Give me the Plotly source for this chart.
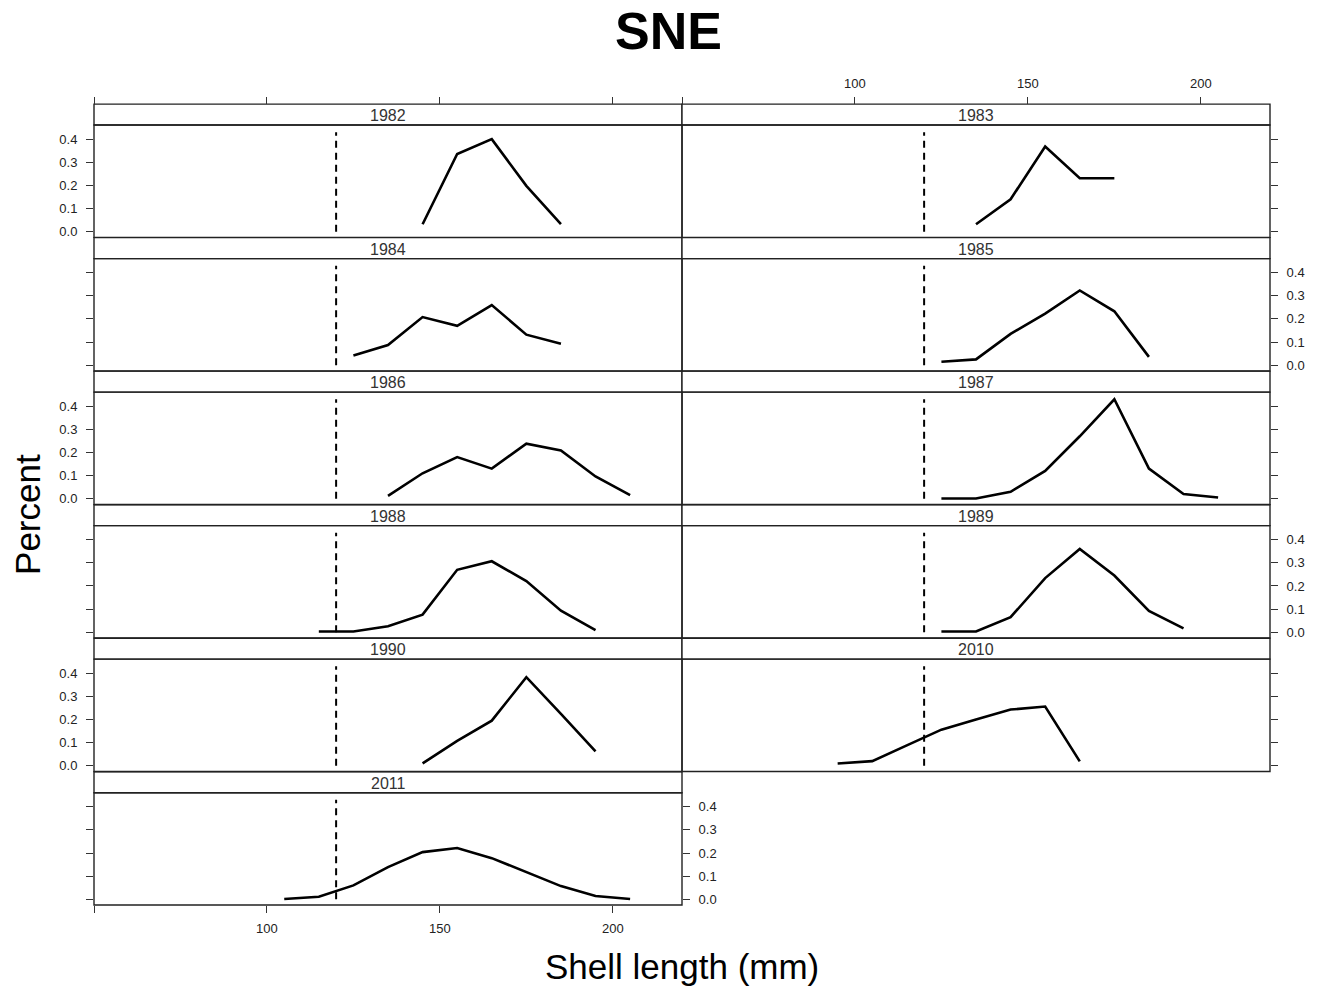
import plotly.graph_objects as go

# Shell-length frequency distributions by survey year (SNE region)
years = ["1982", "1983", "1984", "1985", "1986", "1987",
         "1988", "1989", "1990", "2010", "2011"]

len_1982 = [145, 155, 165, 175, 185]
pct_1982 = [0.032, 0.336, 0.400, 0.198, 0.033]

len_1983 = [135, 145, 155, 165, 175]
pct_1983 = [0.032, 0.140, 0.368, 0.231, 0.231]

len_1984 = [125, 135, 145, 155, 165, 175, 185]
pct_1984 = [0.042, 0.087, 0.208, 0.170, 0.260, 0.132, 0.093]

len_1985 = [125, 135, 145, 155, 165, 175, 185]
pct_1985 = [0.015, 0.025, 0.135, 0.223, 0.323, 0.233, 0.036]

len_1986 = [135, 145, 155, 165, 175, 185, 195, 205]
pct_1986 = [0.012, 0.110, 0.180, 0.130, 0.238, 0.209, 0.096, 0.015]

len_1987 = [125, 135, 145, 155, 165, 175, 185, 195, 205]
pct_1987 = [0.001, 0.001, 0.030, 0.120, 0.270, 0.430, 0.130, 0.020, 0.005]

len_1988 = [115, 125, 135, 145, 155, 165, 175, 185, 195]
pct_1988 = [0.003, 0.003, 0.026, 0.076, 0.270, 0.307, 0.221, 0.093, 0.009]

len_1989 = [125, 135, 145, 155, 165, 175, 185, 195]
pct_1989 = [0.003, 0.003, 0.065, 0.234, 0.360, 0.245, 0.092, 0.017]

len_1990 = [145, 155, 165, 175, 185, 195]
pct_1990 = [0.010, 0.108, 0.195, 0.383, 0.224, 0.062]

len_2010 = [95, 105, 115, 125, 135, 145, 155, 165]
pct_2010 = [0.010, 0.020, 0.088, 0.156, 0.200, 0.243, 0.256, 0.019]

len_2011 = [105, 115, 125, 135, 145, 155, 165, 175, 185, 195, 205]
pct_2011 = [0.001, 0.011, 0.060, 0.139, 0.204, 0.222, 0.178, 0.118, 0.057, 0.014, 0.001]

lengths = [len_1982, len_1983, len_1984, len_1985, len_1986, len_1987,
           len_1988, len_1989, len_1990, len_2010, len_2011]
percents = [pct_1982, pct_1983, pct_1984, pct_1985, pct_1986, pct_1987,
            pct_1988, pct_1989, pct_1990, pct_2010, pct_2011]

# minimum legal size reference line
cutoff_mm = 120
cutoff_top = 0.43

x_ticks = [50, 100, 150, 200]
x_tick_text = ["", "100", "150", "200"]
y_ticks = [0.0, 0.1, 0.2, 0.3, 0.4]
y_tick_text = ["0.0", "0.1", "0.2", "0.3", "0.4"]

W, H = 1327, 992
COLS = [(94, 682), (682, 1270)]
ROW_TOP0 = 104.3
ROW_PITCH = 133.8
STRIP_H = 21.0
PANEL_H = 133.6
X_RANGE = [50, 220]
Y_RANGE = [-0.025, 0.461]

FRAME = "#222222"
TICKCOL = "#333333"
TICKFONT = dict(family="Liberation Sans, Arial, sans-serif", size=13, color="#222222")
AXIS_COMMON = dict(showgrid=False, zeroline=False, showline=False,
                   ticklen=7, tickcolor=TICKCOL, tickwidth=1,
                   tickfont=TICKFONT)


def fx(p):
    return p / W


def fy(p):
    return 1 - p / H


fig = go.Figure()
layout = dict(shapes=[], annotations=[])

n_rows = 6
for i, yr in enumerate(years):
    row, col = divmod(i, 2)
    k = "" if i == 0 else str(i + 1)
    x0, x1 = COLS[col]
    s_top = ROW_TOP0 + ROW_PITCH * row
    s_bot = s_top + STRIP_H
    b_bot = s_top + PANEL_H
    last_row = row == n_rows - 1

    xa = dict(domain=[fx(x0), fx(x1)], range=X_RANGE, ticks="",
              showticklabels=False, anchor="y" + k, tickvals=x_ticks,
              ticktext=x_tick_text, ticklabelstandoff=4, **AXIS_COMMON)
    if row == 0:
        xa.update(anchor="free", position=fy(s_top), side="top",
                  ticks="outside", showticklabels=(col == 1))
    if last_row:
        xa.update(ticks="outside", showticklabels=True, side="bottom")

    # y labels alternate between the left and right sides row by row
    labelled = (row % 2 == 0) if col == 0 else (row % 2 == 1)
    ya = dict(domain=[fy(b_bot), fy(s_bot)], range=Y_RANGE, ticks="outside",
              tickvals=y_ticks, ticktext=y_tick_text, anchor="x" + k,
              side="left" if col == 0 else "right", ticklabelstandoff=6,
              showticklabels=labelled and not last_row, **AXIS_COMMON)

    layout["xaxis" + k] = xa
    layout["yaxis" + k] = ya

    # strip and panel frames
    layout["shapes"].append(dict(type="rect", xref="paper", yref="paper",
                                 x0=fx(x0), x1=fx(x1), y0=fy(s_bot), y1=fy(s_top),
                                 line=dict(color=FRAME, width=1.4),
                                 fillcolor="white", layer="below"))
    layout["shapes"].append(dict(type="rect", xref="paper", yref="paper",
                                 x0=fx(x0), x1=fx(x1), y0=fy(b_bot), y1=fy(s_bot),
                                 line=dict(color=FRAME, width=1.4),
                                 fillcolor="rgba(0,0,0,0)", layer="above"))
    layout["annotations"].append(dict(
        text=yr, xref="paper", yref="paper", x=fx((x0 + x1) / 2),
        y=fy((s_top + s_bot) / 2 + 1), showarrow=False, xanchor="center",
        yanchor="middle",
        font=dict(family="Liberation Sans, Arial, sans-serif", size=16,
                  color="#333333")))

    cut_y = "y" + k
    if last_row:
        # the lone bottom panel also carries a labelled axis on its right side
        layout["yaxis12"] = dict(domain=ya["domain"], range=Y_RANGE,
                                 overlaying="y" + k, anchor="x" + k,
                                 side="right", ticks="outside",
                                 tickvals=y_ticks, ticktext=y_tick_text,
                                 ticklabelstandoff=6, **AXIS_COMMON)
        cut_y = "y12"

    fig.add_trace(go.Scatter(x=[cutoff_mm, cutoff_mm], y=[0, cutoff_top],
                             xaxis="x" + k, yaxis=cut_y, mode="lines",
                             line=dict(color="black", width=2, dash="7px,5px"),
                             showlegend=False, hoverinfo="skip"))
    fig.add_trace(go.Scatter(x=lengths[i], y=percents[i],
                             xaxis="x" + k, yaxis="y" + k, mode="lines",
                             line=dict(color="black", width=2.6),
                             showlegend=False))

big = dict(family="Liberation Sans, Arial, sans-serif", color="black")
layout["annotations"] += [
    dict(text="<b>SNE</b>", xref="paper", yref="paper", x=fx(668), y=fy(31),
         showarrow=False, xanchor="center", yanchor="middle",
         font=dict(size=52, **big)),
    dict(text="Shell length (mm)", xref="paper", yref="paper", x=fx(682),
         y=fy(968), showarrow=False, xanchor="center", yanchor="middle",
         font=dict(size=35, **big)),
    dict(text="Percent", xref="paper", yref="paper", x=fx(28), y=fy(516),
         showarrow=False, xanchor="center", yanchor="middle", textangle=-90,
         font=dict(size=35, **big)),
]

fig.update_layout(**layout)
fig.update_layout(width=W, height=H, margin=dict(l=0, r=0, t=0, b=0),
                  paper_bgcolor="white", plot_bgcolor="rgba(0,0,0,0)",
                  showlegend=False)

fig.write_html("out.html")
